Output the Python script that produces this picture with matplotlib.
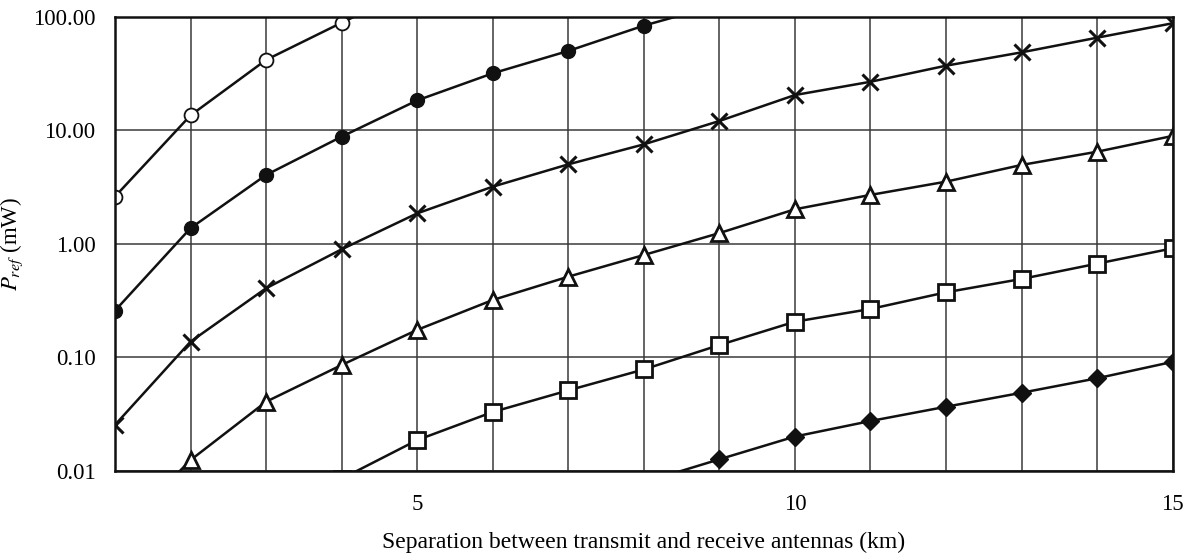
import matplotlib
matplotlib.use("Agg")
import matplotlib.pyplot as plt
from matplotlib.ticker import FixedLocator, FuncFormatter, NullLocator

plt.rcParams["font.family"] = ["Liberation Serif", "DejaVu Serif"]
plt.rcParams["mathtext.fontset"] = "stix"

# separation between antennas (km)
distance_km = [1, 2, 3, 4, 5, 6, 7, 8, 9, 10, 11, 12, 13, 14, 15]

# reflected power (mW) for each curve; values past the plot range keep the lines running to the frame
p_open_circle = [2.6, 13.5, 41.6, 88.5, 183]
p_filled_circle = [0.257, 1.37, 4.03, 8.77, 18.3, 31.7, 49.9, 83.4, 128]
p_cross = [0.0253, 0.137, 0.405, 0.892, 1.85, 3.18, 5.0, 7.5, 12.05, 20.4,
           26.7, 37.0, 48.5, 65.3, 87.5]
p_triangle = [0.0026, 0.0124, 0.0405, 0.0853, 0.174, 0.319, 0.512, 0.795, 1.24,
              2.01, 2.69, 3.52, 4.94, 6.46, 8.9]
p_square = [None, None, None, 0.0085, 0.0186, 0.0329, 0.051, 0.078, 0.128,
            0.2055, 0.266, 0.373, 0.489, 0.667, 0.91]
p_diamond = [None] * 7 + [0.0079, 0.0126, 0.02, 0.0274, 0.0366, 0.0486,
                          0.0652, 0.091]

y_ticks = [0.01, 0.1, 1, 10, 100]
x_labelled = [5, 10, 15]


def pairs(values):
    xs = [d for d, v in zip(distance_km, values) if v is not None]
    ys = [v for v in values if v is not None]
    return xs, ys


fig = plt.figure(figsize=(11.95, 5.56), dpi=100)
ax = fig.add_axes([0.0962, 0.1534, 0.8851, 0.8166])

line_kw = dict(color="#111111", linewidth=1.8, markeredgecolor="#111111")
ax.plot(*pairs(p_open_circle), marker="o", markersize=10, markerfacecolor="white",
        markeredgewidth=1.3, **line_kw)
ax.plot(*pairs(p_filled_circle), marker="o", markersize=10,
        markerfacecolor="#111111", **line_kw)
ax.plot(*pairs(p_cross), marker="x", markersize=12, markeredgewidth=2.2, **line_kw)
ax.plot(*pairs(p_triangle), marker="^", markersize=11.5, markerfacecolor="white",
        markeredgewidth=2.0, **line_kw)
ax.plot(*pairs(p_square), marker="s", markersize=11.5, markerfacecolor="white",
        markeredgewidth=2.0, **line_kw)
ax.plot(*pairs(p_diamond), marker="D", markersize=9, markerfacecolor="#111111",
        **line_kw)

ax.set_yscale("log")
ax.set_xlim(1, 15)
ax.set_ylim(0.01, 100)

ax.xaxis.set_major_locator(FixedLocator(distance_km))
ax.xaxis.set_major_formatter(
    FuncFormatter(lambda v, pos: f"{v:.0f}" if round(v) in x_labelled else ""))
ax.yaxis.set_major_locator(FixedLocator(y_ticks))
ax.yaxis.set_major_formatter(FuncFormatter(lambda v, pos: f"{v:.2f}"))
ax.yaxis.set_minor_locator(NullLocator())

ax.grid(True, which="major", color="#3a3a3a", linewidth=1.1)
ax.set_axisbelow(True)
ax.tick_params(length=0, labelsize=16.5, pad=14)
ax.tick_params(axis="x", pad=17)
for spine in ax.spines.values():
    spine.set_linewidth(1.8)
    spine.set_color("#111111")
    spine.set_zorder(5)

ax.set_xlabel("Separation between transmit and receive antennas (km)",
              fontsize=17, labelpad=12)
ax.set_ylabel(r"$P_{ref}$ (mW)", fontsize=16.5, labelpad=6)

fig.savefig("out.png", dpi=100)
